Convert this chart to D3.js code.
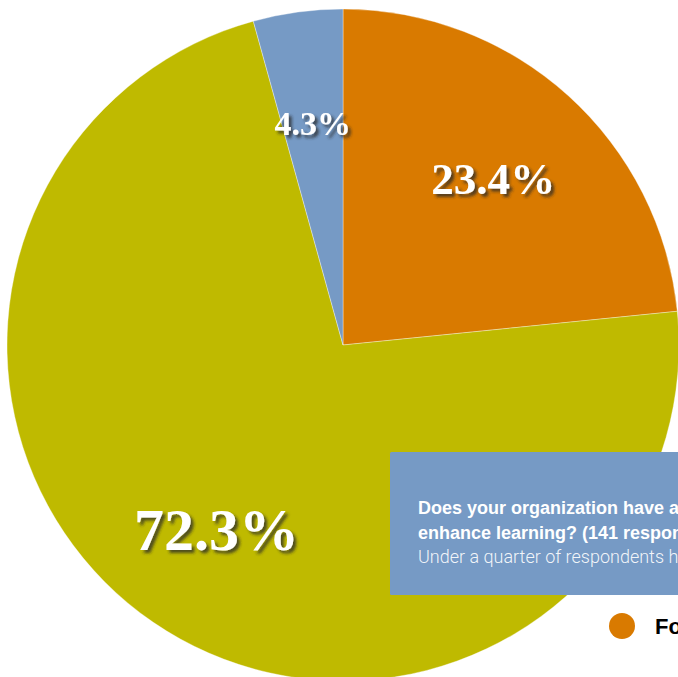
<!DOCTYPE html>
<html>
<head>
<meta charset="utf-8">
<script src="https://cdn.jsdelivr.net/npm/d3@7"></script>
<style>
  html, body { margin: 0; padding: 0; background: #fff; overflow: hidden; }
  svg { display: block; }
</style>
</head>
<body>
<svg id="chart" width="678" height="677"></svg>
<script>
// ---- data ----
const categories = ["Formal program", "No formal program", "Don't know"];
const values = [23.4, 72.3, 4.3];
const colors = ["#d97a00", "#bfba00", "#769ac5"];
const titleLines = [
  "Does your organization have a formal mentoring program to",
  "enhance learning? (141 responses)"
];
const subtitle = "Under a quarter of respondents have a formal program in place";

// ---- layout ----
const W = 678, H = 677;
const cx = 343, cy = 345, R = 336;
const svg = d3.select("#chart");

const defs = svg.append("defs");
const f = defs.append("filter").attr("id", "shadow")
  .attr("x", "-20%").attr("y", "-20%").attr("width", "150%").attr("height", "160%");
f.append("feDropShadow").attr("dx", 3).attr("dy", 3).attr("stdDeviation", 1.8)
  .attr("flood-color", "#2a2a2a").attr("flood-opacity", 0.75);

const data = categories.map((c, i) => ({ name: c, value: values[i], color: colors[i] }));

const pie = d3.pie().value(d => d.value).sort(null);
const arcs = pie(data);
const arc = d3.arc().innerRadius(0).outerRadius(R);
const labelArc = d3.arc().innerRadius(224).outerRadius(224);
const fontScale = d3.scaleSqrt().domain([0, 100]).range([25.6, 25.6 + 4.04 * 10]);

const g = svg.append("g").attr("transform", `translate(${cx},${cy})`);
g.selectAll("path.slice").data(arcs).join("path")
  .attr("class", "slice")
  .attr("d", arc)
  .attr("fill", d => d.data.color)
  .attr("stroke", "rgba(255,255,255,0.45)")
  .attr("stroke-width", 0.8);

g.selectAll("text.lbl").data(arcs).join("text")
  .attr("class", "lbl")
  .attr("transform", d => `translate(${labelArc.centroid(d)})`)
  .attr("text-anchor", "middle")
  .attr("dy", "0.34em")
  .attr("font-family", "'Liberation Serif', 'DejaVu Serif', serif")
  .attr("font-weight", "bold")
  .attr("font-size", d => fontScale(d.data.value))
  .attr("fill", "#fff")
  .attr("filter", "url(#shadow)")
  .text(d => d.data.value.toFixed(1) + "%");

// ---- caption box ----
const box = svg.append("g").attr("transform", "translate(390,452)");
box.append("rect").attr("width", 320).attr("height", 143).attr("rx", 1.5)
  .attr("fill", "#769ac5");
box.selectAll("text.title").data(titleLines).join("text")
  .attr("class", "title")
  .attr("x", 28).attr("y", (d, i) => 62 + i * 25)
  .attr("font-family", "'Liberation Sans', Arial, sans-serif")
  .attr("font-weight", "bold").attr("font-size", 18)
  .attr("fill", "#fff").text(d => d);
box.append("text")
  .attr("x", 28).attr("y", 111)
  .attr("font-family", "Roboto, 'Liberation Sans', sans-serif")
  .attr("font-weight", 300)
  .attr("font-size", 18).attr("fill", "rgba(255,255,255,0.92)")
  .text(subtitle);

// ---- legend ----
const leg = svg.append("g").attr("transform", "translate(622,626)");
leg.append("circle").attr("r", 13).attr("fill", colors[0]);
leg.append("text").attr("x", 33).attr("y", 8)
  .attr("font-family", "'Liberation Sans', Arial, sans-serif")
  .attr("font-weight", "bold").attr("font-size", 22)
  .attr("fill", "#000").text(categories[0]);
</script>
</body>
</html>
